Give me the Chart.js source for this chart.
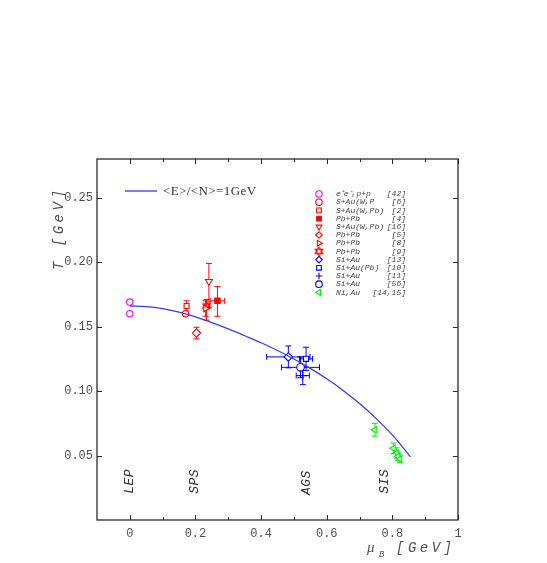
<!DOCTYPE html>
<html>
<head>
<meta charset="utf-8">
<script src="https://cdn.jsdelivr.net/npm/chart.js@4.4.0/dist/chart.umd.min.js"></script>
<style>
  html, body { margin: 0; padding: 0; background: #fff; }
  #wrap { width: 547px; height: 563px; }
</style>
</head>
<body>
<div id="wrap"><canvas id="chart" width="547" height="563"></canvas></div>
<script>
// curve <E>/<N> = 1 GeV
const curveMu = [0, 0.05, 0.1, 0.15, 0.2, 0.25, 0.3, 0.35, 0.4, 0.45, 0.5, 0.55, 0.6, 0.65, 0.7, 0.75, 0.8, 0.855];
const curveT = [0.166, 0.1655, 0.164, 0.1612, 0.1575, 0.1531, 0.1482, 0.1429, 0.1375, 0.1315, 0.1249, 0.1176, 0.1095, 0.1005, 0.0903, 0.0788, 0.066, 0.049];

// LEP
const muEE = [0, 0];
const tEE = [0.169, 0.160];

// SPS
const muSAuWP = [0.170];
const tSAuWP = [0.160];
const muSAuWPb2 = [0.173];
const tSAuWPb2 = [0.166];
const dtSAuWPb2 = [0.004];
const muPbPb4 = [0.267];
const tPbPb4 = [0.170];
const dtLoPbPb4 = [0.012];
const dtHiPbPb4 = [0.011];
const dmuPbPb4 = [0.022];
const muSAuWPb16 = [0.241];
const tSAuWPb16 = [0.185];
const dtLoSAuWPb16 = [0.020];
const dtHiSAuWPb16 = [0.014];
const muPbPb5 = [0.203];
const tPbPb5 = [0.145];
const dtPbPb5 = [0.0045];
const muPbPb8 = [0.231];
const tPbPb8 = [0.164];
const dtPbPb8 = [0.006];
const muPbPb9 = [0.234];
const tPbPb9 = [0.166];
const dtLoPbPb9 = [0.011];
const dtHiPbPb9 = [0.005];

// AGS
const muSiAu13 = [0.483];
const tSiAu13 = [0.1265];
const dtSiAu13 = [0.0085];
const dmuSiAu13 = [0.066];
const muSiAuPb10 = [0.537];
const tSiAuPb10 = [0.125];
const dtSiAuPb10 = [0.009];
const dmuSiAuPb10 = [0.02];
const muSiAu11 = [0.527];
const tSiAu11 = [0.112];
const dtSiAu11 = [0.007];
const dmuSiAu11 = [0.02];
const muSiAu56 = [0.520];
const tSiAu56 = [0.1184];
const dtSiAu56 = [0.008];
const dmuSiAu56 = [0.058];

// SIS
const muNiAu = [0.747, 0.803, 0.813, 0.817, 0.823];
const tNiAu = [0.070, 0.0557, 0.052, 0.0493, 0.0474];
const dtNiAu = [0.005, 0.004, 0.004, 0.003, 0.003];

const legendLabels = ["e\u207Ae\u207B,p+p", "S+Au(W,P", "S+Au(W,Pb)", "Pb+Pb", "S+Au(W,Pb)", "Pb+Pb", "Pb+Pb", "Pb+Pb", "Si+Au", "Si+Au(Pb)", "Si+Au", "Si+Au", "Ni,Au"];
const legendRefs = ["[42]", "[6]", "[2]", "[4]", "[16]", "[5]", "[8]", "[9]", "[13]", "[10]", "[11]", "[56]", "[14,15]"];
const curveLabel = "<E>/<N>=1GeV";

const regionNames = ["LEP", "SPS", "AGS", "SIS"];
const regionMu = [0, 0.198, 0.54, 0.777];
const regionT = [0.030, 0.030, 0.029, 0.030];

const xTickValues = [0, 0.2, 0.4, 0.6, 0.8, 1];
const xMinorTicks = [0.1, 0.3, 0.5, 0.7, 0.9];
const yTickValues = [0.05, 0.1, 0.15, 0.2, 0.25];

const MAGENTA = "#ff00ff";
const RED = "#ff0000";
const BLUE = "#0000ff";
const GREEN = "#00ee00";
const CURVE = "#3a3af0";
const AXIS = "#2a2a2a";
const TEXT = "#505050";

function pts(xs, ys) {
  return xs.map((x, i) => ({ x: x, y: ys[i] }));
}

function makeHexagram(color) {
  const c = document.createElement("canvas");
  c.width = 11;
  c.height = 11;
  const g = c.getContext("2d");
  g.strokeStyle = color;
  g.lineWidth = 1.1;
  [-Math.PI / 2, Math.PI / 2].forEach((off) => {
    g.beginPath();
    for (let k = 0; k < 3; k++) {
      const a = off + (k * 2 * Math.PI) / 3;
      const px = 5.5 + 4.5 * Math.cos(a);
      const py = 5.5 + 4.5 * Math.sin(a);
      if (k) g.lineTo(px, py);
      else g.moveTo(px, py);
    }
    g.closePath();
    g.stroke();
  });
  return c;
}

function series(label, ref, xs, ys, color, style, opts) {
  opts = opts || {};
  return {
    label: label,
    ref: ref,
    data: pts(xs, ys),
    showLine: false,
    borderColor: color,
    backgroundColor: opts.filled ? color : "#ffffff",
    borderWidth: 1.1,
    pointStyle: style,
    pointRadius: opts.radius || 3.5,
    pointRotation: opts.rotation || 0,
    errLo: opts.errLo,
    errHi: opts.errHi,
    errX: opts.errX,
  };
}

const datasets = [
  {
    label: curveLabel,
    isCurve: true,
    data: pts(curveMu, curveT),
    showLine: true,
    borderColor: CURVE,
    borderWidth: 1.3,
    pointRadius: 0,
    cubicInterpolationMode: "monotone",
  },
  series(legendLabels[0], legendRefs[0], muEE, tEE, MAGENTA, "circle", { radius: 3.2 }),
  series(legendLabels[1], legendRefs[1], muSAuWP, tSAuWP, RED, "circle", { radius: 3.2 }),
  series(legendLabels[2], legendRefs[2], muSAuWPb2, tSAuWPb2, RED, "rect", { radius: 3.5, errLo: dtSAuWPb2, errHi: dtSAuWPb2 }),
  series(legendLabels[3], legendRefs[3], muPbPb4, tPbPb4, RED, "rect", { radius: 3.8, filled: true, errLo: dtLoPbPb4, errHi: dtHiPbPb4, errX: dmuPbPb4 }),
  series(legendLabels[4], legendRefs[4], muSAuWPb16, tSAuWPb16, RED, "triangle", { radius: 4, rotation: 180, errLo: dtLoSAuWPb16, errHi: dtHiSAuWPb16 }),
  series(legendLabels[5], legendRefs[5], muPbPb5, tPbPb5, RED, "rectRot", { radius: 4.2, errLo: dtPbPb5, errHi: dtPbPb5 }),
  series(legendLabels[6], legendRefs[6], muPbPb8, tPbPb8, RED, "triangle", { radius: 3.8, rotation: 90, errLo: dtPbPb8, errHi: dtPbPb8 }),
  series(legendLabels[7], legendRefs[7], muPbPb9, tPbPb9, RED, makeHexagram(RED), { radius: 4, errLo: dtLoPbPb9, errHi: dtHiPbPb9 }),
  series(legendLabels[8], legendRefs[8], muSiAu13, tSiAu13, BLUE, "rectRot", { radius: 4.2, errLo: dtSiAu13, errHi: dtSiAu13, errX: dmuSiAu13 }),
  series(legendLabels[9], legendRefs[9], muSiAuPb10, tSiAuPb10, BLUE, "rect", { radius: 3.6, errLo: dtSiAuPb10, errHi: dtSiAuPb10, errX: dmuSiAuPb10 }),
  series(legendLabels[10], legendRefs[10], muSiAu11, tSiAu11, BLUE, "cross", { radius: 4, errLo: dtSiAu11, errHi: dtSiAu11, errX: dmuSiAu11 }),
  series(legendLabels[11], legendRefs[11], muSiAu56, tSiAu56, BLUE, "circle", { radius: 3.8, errLo: dtSiAu56, errHi: dtSiAu56, errX: dmuSiAu56 }),
  series(legendLabels[12], legendRefs[12], muNiAu, tNiAu, GREEN, "triangle", { radius: 3.6, rotation: 270, errLo: dtNiAu, errHi: dtNiAu }),
];

// error bars, drawn under the markers
const errorBars = {
  id: "errorBars",
  beforeDatasetsDraw(chart) {
    const ctx = chart.ctx;
    const xs = chart.scales.x;
    const ys = chart.scales.y;
    const cap = 3;
    ctx.save();
    chart.data.datasets.forEach((ds) => {
      if (ds.isCurve) return;
      ctx.strokeStyle = ds.borderColor;
      ctx.lineWidth = 1;
      ds.data.forEach((d, j) => {
        const px = xs.getPixelForValue(d.x);
        const py = ys.getPixelForValue(d.y);
        if (ds.errLo || ds.errHi) {
          const y1 = ys.getPixelForValue(d.y - (ds.errLo ? ds.errLo[j] : 0));
          const y2 = ys.getPixelForValue(d.y + (ds.errHi ? ds.errHi[j] : 0));
          ctx.beginPath();
          ctx.moveTo(px, y1);
          ctx.lineTo(px, y2);
          ctx.moveTo(px - cap, y1);
          ctx.lineTo(px + cap, y1);
          ctx.moveTo(px - cap, y2);
          ctx.lineTo(px + cap, y2);
          ctx.stroke();
        }
        if (ds.errX) {
          const x1 = xs.getPixelForValue(d.x - ds.errX[j]);
          const x2 = xs.getPixelForValue(d.x + ds.errX[j]);
          ctx.beginPath();
          ctx.moveTo(x1, py);
          ctx.lineTo(x2, py);
          ctx.moveTo(x1, py - cap);
          ctx.lineTo(x1, py + cap);
          ctx.moveTo(x2, py - cap);
          ctx.lineTo(x2, py + cap);
          ctx.stroke();
        }
      });
    });
    ctx.restore();
  },
};

// frame, inward ticks, titles, region labels and legend
const decorations = {
  id: "decorations",
  afterDraw(chart) {
    const ctx = chart.ctx;
    const a = chart.chartArea;
    const xs = chart.scales.x;
    const ys = chart.scales.y;
    ctx.save();

    ctx.strokeStyle = AXIS;
    ctx.lineWidth = 1.3;
    ctx.strokeRect(a.left, a.top, a.right - a.left, a.bottom - a.top);

    ctx.lineWidth = 1;
    ctx.beginPath();
    xTickValues.forEach((v) => {
      const px = Math.round(xs.getPixelForValue(v)) + 0.5;
      ctx.moveTo(px, a.bottom);
      ctx.lineTo(px, a.bottom - 5);
      ctx.moveTo(px, a.top);
      ctx.lineTo(px, a.top + 5);
    });
    xMinorTicks.forEach((v) => {
      const px = Math.round(xs.getPixelForValue(v)) + 0.5;
      ctx.moveTo(px, a.bottom);
      ctx.lineTo(px, a.bottom - 3);
      ctx.moveTo(px, a.top);
      ctx.lineTo(px, a.top + 3);
    });
    yTickValues.forEach((v) => {
      const py = Math.round(ys.getPixelForValue(v)) + 0.5;
      ctx.moveTo(a.left, py);
      ctx.lineTo(a.left + 5, py);
      ctx.moveTo(a.right, py);
      ctx.lineTo(a.right - 5, py);
    });
    ctx.stroke();

    // axis titles
    ctx.fillStyle = TEXT;
    ctx.textBaseline = "alphabetic";
    ctx.textAlign = "left";
    ctx.font = "italic 14px 'Liberation Mono'";
    ctx.letterSpacing = "3.5px";
    ctx.save();
    ctx.translate(63, 270);
    ctx.rotate(-Math.PI / 2);
    ctx.fillText("T [GeV]", 0, 0);
    ctx.restore();

    ctx.font = "italic 15px 'Liberation Serif'";
    ctx.letterSpacing = "0px";
    ctx.fillText("\u03BC", 367, 552);
    ctx.font = "italic 9px 'Liberation Mono'";
    ctx.fillText("B", 379, 557);
    ctx.font = "italic 14px 'Liberation Mono'";
    ctx.letterSpacing = "3.5px";
    ctx.fillText("[GeV]", 396, 552);
    ctx.letterSpacing = "0px";

    // region labels
    ctx.font = "italic 13px 'Liberation Mono'";
    ctx.letterSpacing = "0.5px";
    ctx.fillStyle = "#333";
    ctx.textAlign = "center";
    ctx.textBaseline = "middle";
    regionNames.forEach((name, i) => {
      ctx.save();
      ctx.translate(xs.getPixelForValue(regionMu[i]), ys.getPixelForValue(regionT[i]));
      ctx.rotate(-Math.PI / 2);
      ctx.fillText(name, 0, 0);
      ctx.restore();
    });
    ctx.letterSpacing = "0px";

    // curve legend
    const curveDs = chart.data.datasets[0];
    ctx.strokeStyle = curveDs.borderColor;
    ctx.lineWidth = 1.3;
    ctx.beginPath();
    ctx.moveTo(125, 191);
    ctx.lineTo(157, 191);
    ctx.stroke();
    ctx.fillStyle = "#333";
    ctx.textAlign = "left";
    ctx.textBaseline = "alphabetic";
    ctx.font = "13px 'Liberation Serif'";
    ctx.letterSpacing = "0.4px";
    ctx.fillText(curveDs.label, 163, 195);
    ctx.letterSpacing = "0px";

    // marker legend
    ctx.font = "italic 8px 'Liberation Mono'";
    ctx.textBaseline = "middle";
    let row = 0;
    chart.data.datasets.forEach((ds) => {
      if (ds.isCurve) return;
      const yy = 194 + row * 8.2;
      ctx.fillStyle = ds.backgroundColor;
      ctx.strokeStyle = ds.borderColor;
      ctx.lineWidth = 1.1;
      Chart.helpers.drawPoint(ctx, {
        pointStyle: ds.pointStyle,
        rotation: ds.pointRotation,
        radius: Math.min(ds.pointRadius, 3.3),
        borderWidth: 1.1,
      }, 319, yy);
      ctx.fillStyle = "#444";
      ctx.textAlign = "left";
      ctx.fillText(ds.label, 336, yy);
      ctx.textAlign = "right";
      ctx.fillText(ds.ref, 406, yy);
      row++;
    });

    ctx.restore();
  },
};

const tickFont = { family: "'Liberation Mono'", size: 12 };

new Chart(document.getElementById("chart"), {
  type: "scatter",
  data: { datasets: datasets },
  options: {
    responsive: false,
    animation: false,
    layout: { padding: { top: 159, right: 89, left: 0, bottom: 0 } },
    plugins: {
      legend: { display: false },
      tooltip: { enabled: false },
    },
    scales: {
      x: {
        type: "linear",
        min: -0.1,
        max: 1,
        afterBuildTicks: (scale) => {
          scale.ticks = xTickValues.map((v) => ({ value: v }));
        },
        afterFit: (scale) => {
          scale.height = 43;
        },
        grid: { display: false, drawTicks: false, tickLength: 0 },
        border: { display: false },
        ticks: {
          font: tickFont,
          color: TEXT,
          padding: 7,
          maxRotation: 0,
          autoSkip: false,
          callback: (v) => String(Math.round(v * 10) / 10),
        },
      },
      y: {
        type: "linear",
        min: 0,
        max: 0.28,
        afterBuildTicks: (scale) => {
          scale.ticks = yTickValues.map((v) => ({ value: v }));
        },
        afterFit: (scale) => {
          scale.width = 97;
        },
        grid: { display: false, drawTicks: false, tickLength: 0 },
        border: { display: false },
        ticks: {
          font: tickFont,
          color: TEXT,
          padding: 4,
          autoSkip: false,
          callback: (v) => v.toFixed(2),
        },
      },
    },
  },
  plugins: [errorBars, decorations],
});
</script>
</body>
</html>
